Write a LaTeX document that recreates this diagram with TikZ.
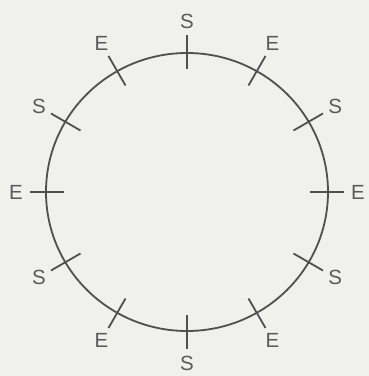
\documentclass[tikz,border=0pt]{standalone}
\usepackage{fontspec}
\setmainfont{Liberation Sans}
\usetikzlibrary{calc}
\definecolor{bg}{RGB}{240,240,237}
\definecolor{ink}{RGB}{80,80,80}
\definecolor{txt}{RGB}{90,90,90}
\tikzset{
  ln/.style={draw=ink, line width=1.8pt},
  lbl/.style={text=txt, font=\fontsize{20.5}{22}\selectfont, inner sep=0pt}
}
\begin{document}
\begin{tikzpicture}[x=1pt,y=1pt]
\fill[bg] (0,0) rectangle (369,376);
\useasboundingbox (0,0) rectangle (369,376);
\coordinate (O) at (187,184);
\draw[ln] (O) ellipse [x radius=141, y radius=139];
\foreach \a/\t [count=\i] in {90/S,60/E,30/S,0/E,-30/S,-60/E,-90/S,-120/E,-150/S,180/E,150/S,120/E} {
  \coordinate (ti\i) at ($(O)+(\a:123)$);
  \coordinate (to\i) at ($(O)+(\a:157)$);
  \draw[ln] (ti\i) -- (to\i);
  \node[lbl] (l\i) at ($(O)+(\a:171)$) {\t};
}
\end{tikzpicture}
\end{document}
